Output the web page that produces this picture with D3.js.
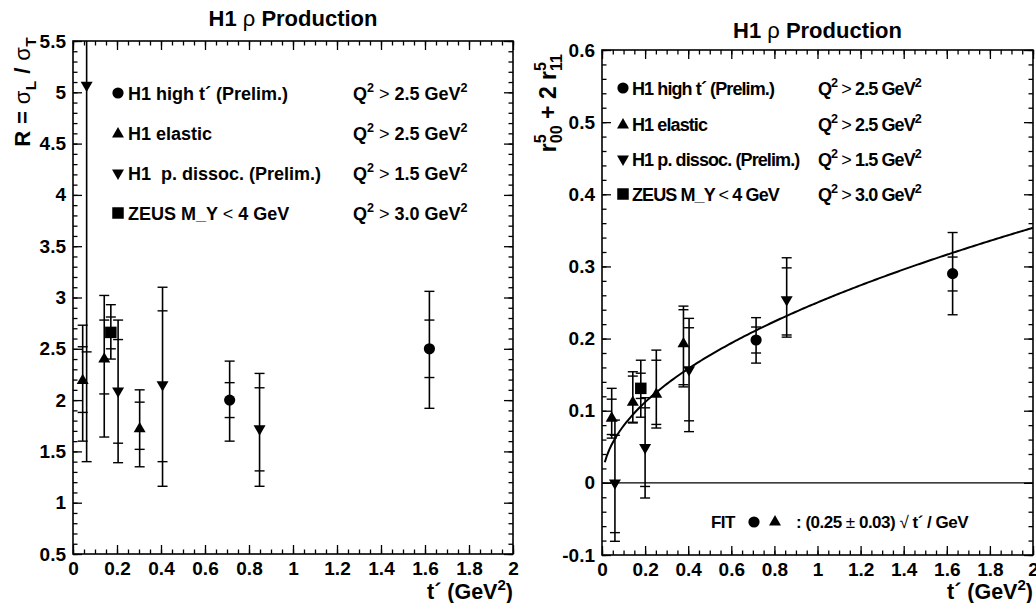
<!DOCTYPE html>
<html><head><meta charset="utf-8">
<script src="https://cdn.jsdelivr.net/npm/d3@7"></script>
<style>
body{margin:0;background:#fff}
svg{display:block}
text{font-family:"Liberation Sans",Arial,Helvetica,sans-serif;font-weight:bold;fill:#000}
</style></head><body>
<svg id="c" width="1036" height="603"></svg>
<script>
// ---------------- DATA ----------------
// rows: [t', value, statLow, statHigh, totalLow, totalHigh]
const xTickValues = [0,0.2,0.4,0.6,0.8,1,1.2,1.4,1.6,1.8,2];
const xTickLabels = ["0","0.2","0.4","0.6","0.8","1","1.2","1.4","1.6","1.8","2"];
const leftYTickValues = [0.5,1,1.5,2,2.5,3,3.5,4,4.5,5,5.5];
const leftYTickLabels = ["0.5","1","1.5","2","2.5","3","3.5","4","4.5","5","5.5"];
const rightYTickValues = [-0.1,0,0.1,0.2,0.3,0.4,0.5,0.6];
const rightYTickLabels = ["-0.1","0","0.1","0.2","0.3","0.4","0.5","0.6"];

const seriesNames = ["H1 high t\u00b4 (Prelim.)","H1 elastic","H1\u00a0 p. dissoc. (Prelim.)","ZEUS M_Y < 4 GeV"];
const seriesNamesRight = ["H1 high t\u00b4 (Prelim.)","H1 elastic","H1 p. dissoc. (Prelim.)","ZEUS M_Y < 4 GeV"];
const seriesQ2 = ["2.5","2.5","1.5","3.0"];
const seriesSymbols = ["circle","up","down","square"];

// Left: R = sigma_L / sigma_T
const R_highT = [[0.712,2.00,1.83,2.17,1.60,2.38],[1.620,2.50,2.22,2.78,1.92,3.06]];
const R_elastic = [[0.044,2.20,1.88,2.52,1.60,2.73],[0.142,2.41,2.06,2.78,1.64,3.02],[0.303,1.73,1.52,1.98,1.35,2.10]];
const R_pdiss = [[0.062,5.07,2.47,7.67,1.40,8.70],[0.205,2.09,1.58,2.59,1.39,2.78],[0.407,2.15,1.40,2.87,1.16,3.10],[0.848,1.72,1.31,2.12,1.16,2.26]];
const R_zeus = [[0.172,2.66,2.50,2.81,2.40,2.93]];

// Right: r5_00 + 2 r5_11
const r_highT = [[0.715,0.198,0.180,0.216,0.166,0.229],[1.627,0.290,0.266,0.313,0.233,0.347]];
const r_elastic = [[0.045,0.091,0.067,0.116,0.062,0.131],[0.143,0.113,0.084,0.148,0.083,0.154],[0.252,0.124,0.081,0.170,0.076,0.184],[0.378,0.194,0.136,0.240,0.133,0.245]];
const r_pdiss = [[0.060,0.000,-0.069,0.066,-0.081,0.087],[0.200,0.049,-0.005,0.104,-0.021,0.118],[0.404,0.157,0.086,0.215,0.071,0.228],[0.857,0.254,0.205,0.298,0.202,0.312]];
const r_zeus = [[0.180,0.131,0.117,0.152,0.091,0.170]];

// fit: (0.25 +- 0.03) sqrt(t')
const fitCoef = 0.25;
const fitRange = [0.013, 2];

// ---------------- DRAW ----------------
const svg = d3.select("#c");

function rich(sel, parts, fs){
  let shift = 0;
  parts.forEach(p=>{
    const target = p.sup ? -0.42*fs : (p.sub ? 0.28*fs : 0);
    const ts = sel.append("tspan").attr("dy", target-shift).text(p.t);
    shift = target;
    if(p.sup||p.sub) ts.attr("font-size", fs*0.7);
    if(p.normal) ts.attr("font-weight","normal");
    if(p.dx) ts.attr("dx", p.dx);
  });
}

function symPath(kind){
  if(kind==="circle") return d3.symbol(d3.symbolCircle, Math.PI*5.6*5.6)();
  if(kind==="square") return d3.symbol(d3.symbolSquare, 11.5*11.5)();
  return d3.symbol(d3.symbolTriangle, 62)();
}
function drawMarker(g, kind, x, y){
  const p = g.append("path").attr("d", symPath(kind)).attr("fill","#000");
  if(kind==="down") p.attr("transform",`translate(${x},${y}) rotate(180)`);
  else if(kind==="up") p.attr("transform",`translate(${x},${y+1})`);
  else p.attr("transform",`translate(${x},${y})`);
}

function panel(o){
  const xs = d3.scaleLinear().domain([0,2]).range([o.x0,o.x1]);
  const ys = d3.scaleLinear().domain(o.yDomain).range([o.y1,o.y0]);
  const g = svg.append("g");
  const clipId = "clip"+o.id;
  svg.append("clipPath").attr("id",clipId).append("rect")
    .attr("x",o.x0).attr("y",o.y0).attr("width",o.x1-o.x0).attr("height",o.y1-o.y0);

  const fs = 19;
  const styleAxis = (sel)=>{
    sel.select(".domain").remove();
    sel.selectAll("line").attr("stroke","#000").attr("stroke-width",1.3);
    sel.selectAll("text").attr("font-size",fs).attr("font-family",null);
  };
  const xMinor = d3.range(0,2.0001,0.05).map(v=>+v.toFixed(2));
  const yMinor = d3.range(o.yDomain[0], o.yDomain[1]+1e-9, o.yMinorStep).map(v=>+v.toFixed(3));
  // bottom
  g.append("g").attr("transform",`translate(0,${o.y1})`)
    .call(d3.axisBottom(xs).tickValues(xTickValues).tickSizeInner(-9).tickSizeOuter(0).tickPadding(8)
      .tickFormat((d,i)=>xTickLabels[i])).call(styleAxis);
  g.append("g").attr("transform",`translate(0,${o.y1})`)
    .call(d3.axisBottom(xs).tickValues(xMinor).tickSizeInner(-4.5).tickSizeOuter(0).tickFormat("")).call(styleAxis);
  // top
  g.append("g").attr("transform",`translate(0,${o.y0})`)
    .call(d3.axisTop(xs).tickValues(xTickValues).tickSizeInner(-9).tickSizeOuter(0).tickFormat("")).call(styleAxis);
  g.append("g").attr("transform",`translate(0,${o.y0})`)
    .call(d3.axisTop(xs).tickValues(xMinor).tickSizeInner(-4.5).tickSizeOuter(0).tickFormat("")).call(styleAxis);
  // left
  g.append("g").attr("transform",`translate(${o.x0},0)`)
    .call(d3.axisLeft(ys).tickValues(o.yTicks).tickSizeInner(-9).tickSizeOuter(0).tickPadding(7)
      .tickFormat((d,i)=>o.yLabels[i])).call(styleAxis);
  g.append("g").attr("transform",`translate(${o.x0},0)`)
    .call(d3.axisLeft(ys).tickValues(yMinor).tickSizeInner(-4.5).tickSizeOuter(0).tickFormat("")).call(styleAxis);
  // right
  g.append("g").attr("transform",`translate(${o.x1},0)`)
    .call(d3.axisRight(ys).tickValues(o.yTicks).tickSizeInner(-9).tickSizeOuter(0).tickFormat("")).call(styleAxis);
  g.append("g").attr("transform",`translate(${o.x1},0)`)
    .call(d3.axisRight(ys).tickValues(yMinor).tickSizeInner(-4.5).tickSizeOuter(0).tickFormat("")).call(styleAxis);

  // frame
  g.append("rect").attr("x",o.x0).attr("y",o.y0).attr("width",o.x1-o.x0).attr("height",o.y1-o.y0)
    .attr("fill","none").attr("stroke","#000").attr("stroke-width",1.6);

  const dg = g.append("g").attr("clip-path",`url(#${clipId})`);
  if(o.zeroLine){
    dg.append("line").attr("x1",o.x0).attr("x2",o.x1).attr("y1",ys(0)).attr("y2",ys(0))
      .attr("stroke","#000").attr("stroke-width",1.2);
  }
  if(o.fit){
    const pts = d3.range(0,201).map(i=>fitRange[0]+(fitRange[1]-fitRange[0])*i/200);
    dg.append("path").datum(pts)
      .attr("d", d3.line().x(t=>xs(t)).y(t=>ys(fitCoef*Math.sqrt(t))))
      .attr("fill","none").attr("stroke","#000").attr("stroke-width",2);
  }
  o.series.forEach((rows,si)=>{
    rows.forEach(r=>{
      const x = xs(r[0]);
      dg.append("line").attr("x1",x).attr("x2",x).attr("y1",ys(r[4])).attr("y2",ys(r[5]))
        .attr("stroke","#000").attr("stroke-width",1.6);
      [r[2],r[3],r[4],r[5]].forEach(v=>{
        dg.append("line").attr("x1",x-5).attr("x2",x+5).attr("y1",ys(v)).attr("y2",ys(v))
          .attr("stroke","#000").attr("stroke-width",1.4);
      });
      drawMarker(dg, seriesSymbols[si], x, ys(r[1]));
    });
  });

  // title
  const tt = svg.append("text").attr("x",(o.x0+o.x1)/2).attr("y",o.titleY).attr("text-anchor","middle").attr("font-size",22);
  rich(tt,[{t:"H1 "},{t:"\u03c1",normal:true},{t:" Production"}],22);

  // x title
  const xt = svg.append("text").attr("x",o.x1).attr("y",599).attr("text-anchor","end").attr("font-size",21.5);
  rich(xt,[{t:"t\u00b4 (GeV"},{t:"2",sup:true},{t:")"}],21.5);

  // legend
  const lg = svg.append("g");
  o.legendRows.forEach((yy,i)=>{
    drawMarker(lg, seriesSymbols[i], o.legMarkX, yy);
    const t1 = lg.append("text").attr("x",o.legTextX).attr("y",yy+6.5).attr("font-size",18)
      .attr("letter-spacing",o.legLS).attr("xml:space","preserve");
    if(i===3){
      rich(t1,[{t:"ZEUS M_Y "},{t:"<",normal:true},{t:" 4 GeV"}],18);
    } else t1.text(o.names[i]);
    const t2 = lg.append("text").attr("x",o.legQX).attr("y",yy+6.5).attr("font-size",18).attr("letter-spacing",o.legLS);
    rich(t2,[{t:"Q"},{t:"2",sup:true},{t:" > ",normal:true},{t:seriesQ2[i]+" GeV"},{t:"2",sup:true}],18);
  });
  return {xs,ys};
}

panel({id:"L",x0:73,x1:513,y0:41,y1:554,yDomain:[0.5,5.5],yTicks:leftYTickValues,yLabels:leftYTickLabels,
  yMinorStep:0.1,titleY:26,series:[R_highT,R_elastic,R_pdiss,R_zeus],names:seriesNames,
  legendRows:[93,133,173,213],legMarkX:118,legTextX:128,legQX:353,legLS:0});
panel({id:"R",x0:602,x1:1033,y0:50,y1:555,yDomain:[-0.1,0.6],yTicks:rightYTickValues,yLabels:rightYTickLabels,
  yMinorStep:0.02,titleY:38,series:[r_highT,r_elastic,r_pdiss,r_zeus],names:seriesNamesRight,zeroLine:true,fit:true,
  legendRows:[88,124,159,194],legMarkX:623,legTextX:632,legQX:818,legLS:-0.9});

// left y title
const ly = svg.append("text").attr("transform","translate(30,37) rotate(-90)").attr("text-anchor","end").attr("font-size",22).attr("letter-spacing",0.4);
rich(ly,[{t:"R = "},{t:"\u03c3",normal:true},{t:"L",sub:true},{t:" / "},{t:"\u03c3",normal:true},{t:"T",sub:true}],22);

// right y title
const ry = svg.append("text").attr("transform","translate(556,54) rotate(-90)").attr("text-anchor","end").attr("font-size",23);
rich(ry,[{t:"r"},{t:"5",sup:true},{t:"00",sub:true,dx:-9},{t:" + 2 r"},{t:"5",sup:true},{t:"11",sub:true,dx:-9}],23);

// fit label
const fl = svg.append("g");
fl.append("text").attr("x",711).attr("y",528).attr("font-size",17).attr("letter-spacing",-0.6).text("FIT");
drawMarker(fl,"circle",754,522);
drawMarker(fl,"up",775,521);
const ft = fl.append("text").attr("x",796).attr("y",528).attr("font-size",17).attr("letter-spacing",-0.5);
rich(ft,[{t:": (0.25 "},{t:"\u00b1",normal:true},{t:" 0.03) "},{t:"\u221a",normal:true},{t:" t\u00b4 / GeV"}],17);
</script>
</body></html>
